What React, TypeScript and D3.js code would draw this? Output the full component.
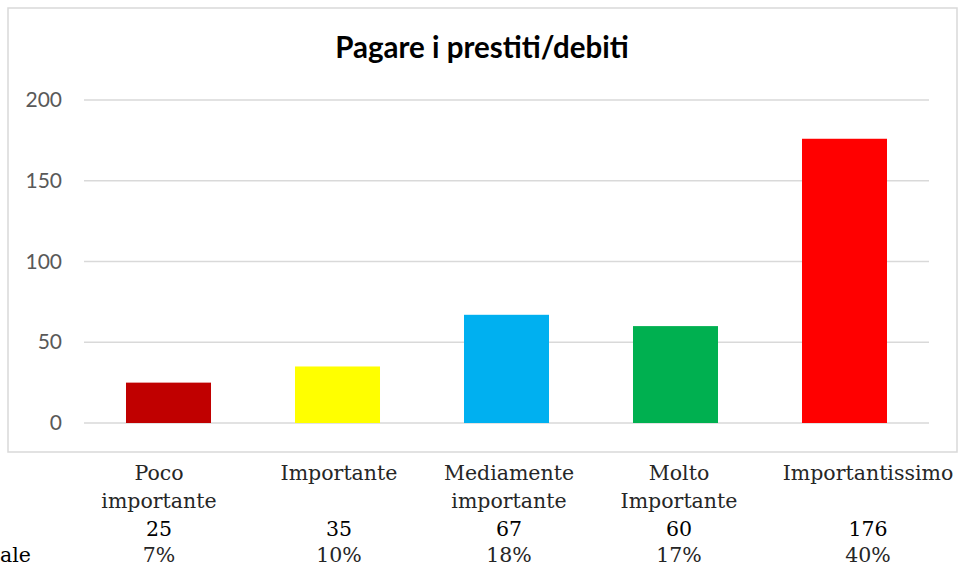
import React from 'react';
import * as d3 from 'd3';

const categories = ['Poco importante', 'Importante', 'Mediamente importante', 'Molto Importante', 'Importantissimo'];
const labelLines = [['Poco', 'importante'], ['Importante'], ['Mediamente', 'importante'], ['Molto', 'Importante'], ['Importantissimo']];
const counts = [25, 35, 67, 60, 176];
const percents = ['7%', '10%', '18%', '17%', '40%'];
const barColors = ['#c00000', '#ffff00', '#00b0f0', '#00b050', '#ff0000'];
const yTicks = [0, 50, 100, 150, 200];
const title = 'Pagare i prestiti/debiti';
const rowLabel = 'Percentuale';

// table columns below the chart (not aligned to the bars)
const tableColX = [159, 339, 509, 679, 868];

const width = 959;
const height = 567;
const box = { left: 8, top: 8, right: 957, bottom: 452 };
const plot = { left: 84, right: 929, top: 100, bottom: 423 };

export default function App() {
  const x = d3
    .scaleBand<string>()
    .domain(categories)
    .range([plot.left, plot.right])
    .paddingInner(0.497)
    .paddingOuter(0.2485);

  const y = d3.scaleLinear().domain([0, 200]).range([plot.bottom, plot.top]);

  const serif = '"DejaVu Serif", serif';
  const sans = 'Lato, "Open Sans", sans-serif';

  return (
    <svg width={width} height={height} style={{ position: 'absolute', left: 0, top: 0 }}>
      <rect x={0} y={0} width={width} height={height} fill="#fff" />
      <rect
        x={box.left}
        y={box.top}
        width={box.right - box.left}
        height={box.bottom - box.top}
        fill="#fff"
        stroke="#d9d9d9"
        strokeWidth={1.5}
      />
      <text x={482} y={58} textAnchor="middle" fontFamily={sans} fontWeight="bold" fontSize={29.5} fill="#000">
        {title}
      </text>

      {/* gridlines + y ticks */}
      {yTicks.map((t) => (
        <g key={t}>
          <line x1={plot.left} x2={plot.right} y1={y(t)} y2={y(t)} stroke="#d9d9d9" strokeWidth={1.5} />
          <text x={62} y={y(t)} dy="0.34em" textAnchor="end" fontFamily={sans} fontSize={21} fill="#595959">
            {t}
          </text>
        </g>
      ))}

      {/* bars */}
      {categories.map((c, i) => (
        <rect
          key={c}
          x={x(c)}
          y={y(counts[i])}
          width={x.bandwidth()}
          height={y(0) - y(counts[i])}
          fill={barColors[i]}
        />
      ))}

      {/* data table */}
      {categories.map((c, i) => (
        <g key={c} fontFamily={serif} fontSize={20.5} textAnchor="middle">
          {labelLines[i].map((ln, j) => (
            <text key={j} x={tableColX[i]} y={480 + j * 28} fill="#262626">
              {ln}
            </text>
          ))}
          <text x={tableColX[i]} y={536} fill="#000">
            {counts[i]}
          </text>
          <text x={tableColX[i]} y={562} fill="#262626">
            {percents[i]}
          </text>
        </g>
      ))}
      <text x={31} y={562} textAnchor="end" fontFamily={serif} fontSize={20.5} fill="#000">
        {rowLabel}
      </text>
    </svg>
  );
}
